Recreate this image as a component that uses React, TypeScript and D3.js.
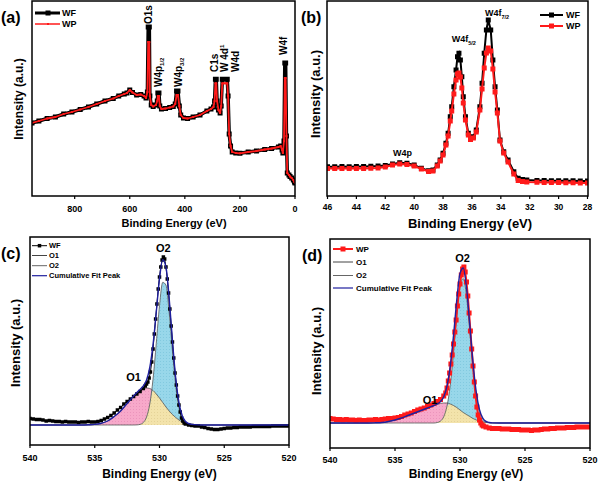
import React from "react";
import * as d3 from "d3";

type P = [number, number];

// ---------- (a) survey spectrum ----------
const surveyWF: P[] = [
  [955, 73], [930, 75], [900, 77.5], [870, 79], [840, 82], [810, 84], [780, 86.5], [750, 89], [720, 92], [690, 95],
  [660, 97.5], [640, 100], [620, 102], [610, 103], [600, 106], [590, 103.5], [575, 101], [560, 101.5], [548, 100],
  [541, 98], [536, 104], [533, 169], [529, 169], [527, 100], [522, 91], [515, 89.5], [505, 91], [500, 95], [498, 103],
  [494, 103], [491, 90], [485, 87], [470, 87.5], [455, 88.5], [442, 89.5], [435, 92], [430, 105], [425, 105], [420, 90],
  [415, 81], [405, 78], [390, 77.5], [370, 79], [345, 81], [320, 85], [305, 87], [296, 89], [292, 95], [289, 116.7],
  [286, 116.7], [283, 95], [278, 86], [272, 83], [268, 90], [264, 116.7], [258, 116.7], [252, 116.7], [246, 116.7],
  [243, 100], [239, 62], [234, 50], [228, 44], [215, 43], [200, 42.7], [170, 44], [140, 45], [110, 46.5], [85, 47.5],
  [60, 49], [52, 50], [47, 46], [44, 43], [40, 55], [37, 133], [34, 133], [31, 60], [28, 23], [22, 21], [18, 19.5],
  [12, 18], [6, 16], [2, 14], [0, 13],
];
const surveyWP: P[] = [
  [955, 73], [930, 75], [900, 77.5], [870, 79], [840, 82], [810, 84], [780, 86.5], [750, 89], [720, 92], [690, 95],
  [660, 97.5], [640, 100], [620, 102], [610, 103], [600, 106], [590, 103.5], [575, 101], [560, 101.5], [548, 100],
  [541, 98], [536, 104], [533, 154], [529, 154], [527, 100], [522, 91], [515, 89.5], [505, 91], [500, 95], [498, 100],
  [494, 100], [491, 90], [485, 87], [470, 87.5], [455, 88.5], [442, 89.5], [435, 92], [430, 101], [425, 101], [420, 90],
  [415, 81], [405, 78], [390, 77.5], [370, 79], [345, 81], [320, 85], [305, 87], [296, 89], [292, 95], [289, 112.7],
  [286, 112.7], [283, 95], [278, 86], [272, 83], [268, 90], [264, 112.7], [258, 112.7], [252, 112.7], [246, 112.7],
  [243, 100], [239, 62], [234, 50], [228, 44], [215, 43], [200, 42.7], [170, 44], [140, 45], [110, 46.5], [85, 47.5],
  [60, 49], [52, 50], [47, 46], [44, 43], [40, 55], [37, 118], [34, 118], [31, 60], [28, 23], [22, 21], [18, 19.5],
  [12, 18], [6, 16], [2, 14], [0, 13],
];

// ---------- (b) W4f region ----------
const w4fBE = [
  46, 45.5, 45, 44.5, 44, 43.5, 43, 42.5, 42, 41.5, 41, 40.5, 40, 39.5, 39, 38.7, 38.4, 38.2, 38, 37.8, 37.65, 37.5,
  37.4, 37.25, 37.1, 37.0, 36.9, 36.8, 36.7, 36.6, 36.45, 36.25, 36.1, 35.9, 35.7, 35.45, 35.3, 35.15, 35.0, 34.87,
  34.7, 34.55, 34.4, 34.24, 34.06, 33.8, 33.5, 33.1, 32.8, 32.5, 32.2, 31.5, 31, 30.5, 30, 29.5, 29, 28.5, 28,
];
const w4fWF = [
  29.3, 29.3, 29.5, 29.3, 29.5, 29.5, 29.8, 30, 30.5, 32, 33.3, 32.7, 31, 27.7, 25.3, 26, 31, 36, 42.7, 52.7, 62.7,
  79.3, 89.3, 109.3, 126, 139.3, 142.7, 136, 119.3, 99.3, 79.3, 62.7, 57.7, 59.3, 66, 89.3, 112.7, 142.7, 166, 176,
  166, 136, 109.3, 86, 56, 44.3, 36, 24.3, 17.7, 16.5, 16, 15.5, 15.5, 15.3, 15.3, 15.2, 15.2, 15, 15,
];
const w4fWP = [
  27.5, 27.5, 27.5, 27.5, 27.5, 27.5, 27.8, 28, 29, 31, 32, 31.5, 30, 27, 24.5, 25, 30, 35, 41, 51, 60, 75, 85, 102,
  116, 122, 123, 119, 108, 93, 76, 61, 56.5, 58, 64, 86, 107, 128, 143, 148, 145, 127, 104, 83, 55, 43, 34, 22, 15.5,
  14.5, 14, 13.8, 13.6, 13.5, 13.5, 13.3, 13.2, 13, 13,
];

// ---------- (c) O1s of WF ----------
const o1sWF: P[] = [
  [540, 26.5], [539.75, 26], [539.5, 25.5], [539.25, 25.5], [539, 25], [538.75, 24], [538.5, 24.5], [538.25, 24],
  [538, 23.5], [537.75, 23.5], [537.5, 23], [537.25, 23.5], [537, 23], [536.75, 23], [536.5, 23], [536.25, 22.5],
  [536, 23], [535.75, 23], [535.5, 23.5], [535.25, 23], [535, 23], [534.75, 23.5], [534.5, 24.5], [534.25, 26],
  [534, 27.5], [533.75, 29.5], [533.5, 32], [533.25, 35], [533, 37.5], [532.75, 41], [532.5, 43.5], [532.25, 46],
  [532, 48.5], [531.75, 51], [531.5, 53.5], [531.25, 56.5], [531.1, 59], [531, 61], [530.9, 63], [530.8, 67],
  [530.7, 73], [530.6, 83], [530.5, 96], [530.4, 111], [530.3, 126], [530.2, 141], [530.1, 156], [530, 168],
  [529.9, 178], [529.8, 185], [529.7, 188], [529.6, 186], [529.5, 178], [529.4, 166], [529.3, 152], [529.2, 136],
  [529.1, 119], [529, 103], [528.9, 87], [528.8, 72], [528.7, 60], [528.6, 49], [528.5, 40], [528.4, 33], [528.3, 27],
  [528.2, 24], [528.1, 22], [528, 21], [527.75, 20], [527.5, 19.5], [527.25, 19], [527, 19], [526.75, 18],
  [526.5, 17.5], [526.25, 16.5], [526, 16], [525.75, 15.5], [525.5, 15.5], [525.25, 16], [525, 16.5], [524.75, 17],
  [524.5, 17], [524.25, 17.5], [524, 17.5], [523.75, 18], [523.5, 18], [523.25, 18], [523, 18], [522.75, 18.5],
  [522.5, 18.5], [522.25, 18.5], [522, 18.5], [521.75, 18.5], [521.5, 18.5], [521.25, 19], [521, 19], [520.75, 19],
  [520.5, 19], [520.25, 19], [520, 19],
];
const fitBEc = [540, 536, 535.5, 535, 534.5, 534, 533.5, 533, 532.5, 532, 531.75, 531.5, 531.25, 531, 530.75, 530.5,
  530.25, 530, 529.75, 529.5, 529.25, 529, 528.75, 528.5, 528.25, 528, 527.75, 527.5, 527, 526.5, 520];
const o1c = [0, 0, 0.2, 0.6, 1.8, 4, 8.5, 14, 21.5, 29, 32.5, 35, 36.5, 37, 36.5, 34.5, 31, 27, 22.5, 18, 14, 10.5,
  7.5, 5, 3, 1.8, 1, 0.5, 0.1, 0, 0];
const o2c = [0, 0, 0, 0, 0, 0, 0, 0, 0, 0, 0.1, 0.6, 2.5, 7.9, 21, 45.8, 81.7, 119.3, 142.7, 139.9, 112.3, 73.9,
  39.8, 17.6, 6.4, 1.9, 0.5, 0.1, 0, 0, 0];
const baselineC = 20;

// ---------- (d) O1s of WP ----------
const o1sWP: P[] = [
  [540, 29.5], [539.75, 29], [539.5, 28.5], [539.25, 28.5], [539, 28], [538.75, 28.5], [538.5, 28], [538.25, 28],
  [538, 27.5], [537.75, 28], [537.5, 27.5], [537.25, 27.5], [537, 28], [536.75, 28], [536.5, 28.5], [536.25, 28],
  [536, 28.5], [535.75, 29], [535.5, 29.5], [535.25, 29.5], [535, 30], [534.75, 30.5], [534.5, 31.5], [534.25, 33],
  [534, 34], [533.75, 35], [533.5, 36.5], [533.25, 38], [533, 39], [532.75, 40], [532.5, 41.5], [532.25, 43],
  [532, 44.5], [531.75, 46.5], [531.5, 48.5], [531.25, 52], [531.1, 55], [531, 60], [530.9, 67], [530.8, 75],
  [530.7, 84], [530.6, 93], [530.5, 104], [530.4, 116], [530.3, 128], [530.2, 142], [530.1, 154], [530, 164],
  [529.9, 173], [529.8, 179], [529.7, 181], [529.6, 176], [529.5, 166], [529.4, 152], [529.3, 135], [529.2, 117],
  [529.1, 99], [529, 82], [528.9, 66], [528.8, 52], [528.7, 41], [528.6, 33], [528.5, 28], [528.4, 25], [528.3, 23],
  [528.2, 22], [528, 21], [527.75, 20], [527.5, 19.5], [527.25, 19.5], [527, 19.5], [526.75, 19], [526.5, 19],
  [526.25, 19], [526, 18.5], [525.75, 18.5], [525.5, 18.5], [525.25, 18], [525, 18], [524.75, 18], [524.5, 17.5],
  [524.25, 18], [524, 18], [523.75, 18.5], [523.5, 19], [523.25, 19], [523, 19.5], [522.75, 19.5], [522.5, 20],
  [522.25, 20], [522, 20], [521.75, 20.5], [521.5, 20.5], [521.25, 20.5], [521, 21], [520.75, 21], [520.5, 21],
  [520.25, 21], [520, 21],
];
const fitBEd = [540, 537, 536.5, 536, 535.5, 535, 534.5, 534, 533.5, 533, 532.5, 532, 531.75, 531.5, 531.25, 531,
  530.75, 530.5, 530.25, 530, 529.75, 529.5, 529.25, 529, 528.75, 528.5, 528.25, 528, 527.75, 527.5, 527, 520];
const o1d = [0, 0, 0.2, 0.5, 1.5, 3, 5, 7.5, 10, 12.5, 15, 17.5, 18.5, 19.5, 20, 20, 19, 17.5, 15.5, 13, 10.5, 8.5,
  6.5, 4.5, 3, 1.8, 1, 0.5, 0.2, 0.1, 0, 0];
const o2d = [0, 0, 0, 0, 0, 0, 0, 0, 0, 0, 0, 0, 0.5, 1.9, 6.3, 16.9, 37.7, 69.8, 107.2, 136.6, 144.5, 126.8, 92.3,
  55.8, 28, 11.6, 4, 1.1, 0.3, 0, 0, 0];
const baselineD = 25;

const ticksSurvey = [800, 600, 400, 200, 0];
const ticksW4f = [46, 44, 42, 40, 38, 36, 34, 32, 30, 28];
const ticksO1s = [540, 535, 530, 525, 520];

const FONT = "'Liberation Sans', Arial, Helvetica, sans-serif";

type Box = { x0: number; x1: number; y0: number; y1: number };
const boxA: Box = { x0: 32, x1: 295, y0: 1, y1: 196 };
const boxB: Box = { x0: 327, x1: 588, y0: 1, y1: 196 };
const boxC: Box = { x0: 30, x1: 289, y0: 237, y1: 445 };
const boxD: Box = { x0: 330, x1: 590, y0: 239, y1: 448 };

function squares(pts: P[], s: number) {
  return pts.map(([x, y]) => `M${x - s / 2},${y - s / 2}h${s}v${s}h${-s}Z`).join("");
}

function Frame({ b }: { b: Box }) {
  return <rect x={b.x0} y={b.y0} width={b.x1 - b.x0} height={b.y1 - b.y0} fill="none" stroke="#000" strokeWidth={1.5} />;
}

function XAxis({ scale, ticks, b, labelY, fs }: any) {
  return (
    <g>
      {ticks.map((t: number) => (
        <g key={t}>
          <line x1={scale(t)} x2={scale(t)} y1={b.y1} y2={b.y1 + 3} stroke="#000" strokeWidth={1.2} />
          <text x={scale(t)} y={labelY} textAnchor="middle" fontSize={fs} fontWeight="bold" fontFamily={FONT}>{t}</text>
        </g>
      ))}
    </g>
  );
}

function YTitle({ x, y, fs }: any) {
  return (
    <text transform={`translate(${x},${y}) rotate(-90)`} textAnchor="middle" dominantBaseline="central" fontSize={fs}
      fontWeight="bold" fontFamily={FONT}>Intensity (a.u.)</text>
  );
}

function VLabel({ x, y, children, fs = 10 }: any) {
  return (
    <text transform={`translate(${x},${y}) rotate(-90)`} textAnchor="start" dominantBaseline="central" fontSize={fs}
      fontWeight="bold" fontFamily={FONT}>{children}</text>
  );
}

function FitPanel({ b, x, y, data, fitBE, o1, o2, base, color, markerSize, lineW, legendName, legend, labels, prefix }: any) {
  const idx = fitBE.map((_: number, i: number) => i);
  const mn = o1.map((v: number, i: number) => Math.min(v, o2[i]));
  const cum = o1.map((v: number, i: number) => base + v + o2[i]);
  const area = (arr: number[]) =>
    d3.area<number>().x((i) => x(fitBE[i])).y0(y(base)).y1((i) => y(base + arr[i])).curve(d3.curveMonotoneX)(idx) || "";
  const line = (arr: number[], off: number) =>
    d3.line<number>().x((i) => x(fitBE[i])).y((i) => y(off + arr[i])).curve(d3.curveMonotoneX)(idx) || "";
  const pts: P[] = data.map(([e, v]: P) => [x(e), y(v)]);
  const dataLine = d3.line()(pts) || "";
  return (
    <g>
      <defs>
        <clipPath id={`${prefix}clip`}><rect x={b.x0} y={b.y0} width={b.x1 - b.x0} height={b.y1 - b.y0} /></clipPath>
      </defs>
      <g clipPath={`url(#${prefix}clip)`}>
        <path d={area(o1)} fill="url(#patPink)" />
        <path d={area(o2)} fill="url(#patBlue)" />
        <path d={area(mn)} fill="url(#patYellow)" />
        <path d={line(o1, base)} fill="none" stroke="#555" strokeWidth={0.8} />
        <path d={line(o2, base)} fill="none" stroke="#555" strokeWidth={0.8} />
        <path d={dataLine} fill="none" stroke={color} strokeWidth={lineW} />
        <path d={squares(pts, markerSize)} fill={color} />
        <path d={line(cum, 0)} fill="none" stroke="#1f1f9e" strokeWidth={1.4} />
      </g>
      <Frame b={b} />
      {/* legend */}
      <g fontFamily={FONT} fontWeight="bold" fontSize={legend.fs}>
        <line x1={legend.x0} x2={legend.x1} y1={legend.ys[0]} y2={legend.ys[0]} stroke={color} strokeWidth={lineW} />
        <rect x={(legend.x0 + legend.x1) / 2 - markerSize / 2} y={legend.ys[0] - markerSize / 2} width={markerSize} height={markerSize} fill={color} />
        <text x={legend.tx} y={legend.ys[0]} dominantBaseline="central">{legendName}</text>
        <line x1={legend.x0} x2={legend.x1} y1={legend.ys[1]} y2={legend.ys[1]} stroke="#444" strokeWidth={1} />
        <text x={legend.tx} y={legend.ys[1]} dominantBaseline="central">O1</text>
        <line x1={legend.x0} x2={legend.x1} y1={legend.ys[2]} y2={legend.ys[2]} stroke="#666" strokeWidth={1} />
        <text x={legend.tx} y={legend.ys[2]} dominantBaseline="central">O2</text>
        <line x1={legend.x0} x2={legend.x1} y1={legend.ys[3]} y2={legend.ys[3]} stroke="#1f1f9e" strokeWidth={1.2} />
        <text x={legend.tx} y={legend.ys[3]} dominantBaseline="central">Cumulative Fit Peak</text>
      </g>
      <g fontFamily={FONT} fontWeight="bold" fontSize={11} textAnchor="middle">
        <text x={x(labels.o2[0])} y={y(labels.o2[1])}>O2</text>
        <text x={x(labels.o1[0])} y={y(labels.o1[1])}>O1</text>
      </g>
    </g>
  );
}

export default function App() {
  const xA = d3.scaleLinear().domain([955, 0]).range([boxA.x0, boxA.x1]);
  const yA = d3.scaleLinear().domain([0, 195]).range([boxA.y1, boxA.y0]);
  const xB = d3.scaleLinear().domain([46, 28]).range([327.5, 587.5]);
  const yB = d3.scaleLinear().domain([0, 195]).range([boxB.y1, boxB.y0]);
  const xC = d3.scaleLinear().domain([540, 520]).range([boxC.x0, boxC.x1]);
  const yC = d3.scaleLinear().domain([0, 208]).range([boxC.y1, boxC.y0]);
  const xD = d3.scaleLinear().domain([540, 520]).range([boxD.x0, boxD.x1]);
  const yD = d3.scaleLinear().domain([0, 209]).range([boxD.y1, boxD.y0]);

  const aWF: P[] = surveyWF.map(([e, v]) => [xA(e), yA(v)]);
  const aWP: P[] = surveyWP.map(([e, v]) => [xA(e), yA(v)]);
  const bWF: P[] = w4fBE.map((e, i) => [xB(e), yB(w4fWF[i])]);
  const bWP: P[] = w4fBE.map((e, i) => [xB(e), yB(w4fWP[i])]);
  const lin = d3.line();

  return (
    <svg width={600} height={486} style={{ position: "absolute", left: 0, top: 0, background: "#fff" }}>
      <defs>
        <pattern id="patPink" width={3} height={3} patternUnits="userSpaceOnUse">
          <rect width={3} height={3} fill="#f7a9ca" />
          <circle cx={1.5} cy={1.5} r={0.45} fill="#e07fae" />
        </pattern>
        <pattern id="patBlue" width={3} height={3} patternUnits="userSpaceOnUse">
          <rect width={3} height={3} fill="#98d7ea" />
          <circle cx={1.5} cy={1.5} r={0.45} fill="#6bbbd4" />
        </pattern>
        <pattern id="patYellow" width={3} height={3} patternUnits="userSpaceOnUse">
          <rect width={3} height={3} fill="#f3e3ab" />
          <circle cx={1.5} cy={1.5} r={0.45} fill="#d6c384" />
        </pattern>
        <clipPath id="clipA"><rect x={boxA.x0} y={boxA.y0 - 3} width={boxA.x1 - boxA.x0} height={boxA.y1 - boxA.y0 + 3} /></clipPath>
        <clipPath id="clipB"><rect x={boxB.x0} y={boxB.y0} width={boxB.x1 - boxB.x0} height={boxB.y1 - boxB.y0} /></clipPath>
      </defs>

      {/* ---------- panel (a) ---------- */}
      <g clipPath="url(#clipA)">
        <path d={lin(aWF) || ""} fill="none" stroke="#000" strokeWidth={3.5} strokeLinejoin="round" />
        <path d={squares(aWF, 5)} fill="#000" />
        <path d={lin(aWP) || ""} fill="none" stroke="#ff1a1a" strokeWidth={1.8} strokeLinejoin="round" />
        <path d={squares(aWP, 2)} fill="#ff1a1a" />
      </g>
      <Frame b={boxA} />
      <XAxis scale={xA} ticks={ticksSurvey} b={boxA} labelY={212} fs={9} />
      <text x={174} y={227} textAnchor="middle" fontSize={11} fontWeight="bold" fontFamily={FONT}>Binding Energy (eV)</text>
      <YTitle x={19} y={99} fs={12} />
      <text x={1} y={23} fontSize={16} fontWeight="bold" fontFamily={FONT}>(a)</text>
      <g fontFamily={FONT} fontWeight="bold" fontSize={9}>
        <line x1={35} x2={60} y1={13} y2={13} stroke="#000" strokeWidth={3} />
        <rect x={45.5} y={10.5} width={5} height={5} fill="#000" />
        <text x={62} y={13} dominantBaseline="central">WF</text>
        <line x1={35} x2={60} y1={24} y2={24} stroke="#ff1a1a" strokeWidth={1.5} />
        <rect x={47} y={23} width={2} height={2} fill="#ff1a1a" />
        <text x={62} y={24} dominantBaseline="central">WP</text>
      </g>
      <VLabel x={xA(531)} y={yA(172)}>O1s</VLabel>
      <VLabel x={xA(494.5)} y={yA(109)}>W4p<tspan fontSize={6} baselineShift="sub">1/2</tspan></VLabel>
      <VLabel x={xA(422)} y={yA(109)}>W4p<tspan fontSize={6} baselineShift="sub">3/2</tspan></VLabel>
      <VLabel x={xA(291)} y={yA(124)}>C1s</VLabel>
      <VLabel x={xA(254.5)} y={yA(124)}>W 4d<tspan fontSize={6} baselineShift="super">1</tspan></VLabel>
      <VLabel x={xA(214.5)} y={yA(124)}>W4d</VLabel>
      <VLabel x={xA(40)} y={yA(141)}>W4f</VLabel>

      {/* ---------- panel (b) ---------- */}
      <g clipPath="url(#clipB)">
        <path d={lin(bWF) || ""} fill="none" stroke="#000" strokeWidth={2} />
        <path d={squares(bWF, 5)} fill="#000" />
        <path d={lin(bWP) || ""} fill="none" stroke="#ff1a1a" strokeWidth={2} />
        <path d={squares(bWP, 5)} fill="#ff1a1a" />
      </g>
      <Frame b={boxB} />
      <XAxis scale={xB} ticks={ticksW4f} b={boxB} labelY={210} fs={8.5} />
      <text x={470} y={228} textAnchor="middle" fontSize={13} fontWeight="bold" fontFamily={FONT}>Binding Energy (eV)</text>
      <YTitle x={315} y={94} fs={13} />
      <text x={301} y={23} fontSize={16} fontWeight="bold" fontFamily={FONT}>(b)</text>
      <g fontFamily={FONT} fontWeight="bold" fontSize={9}>
        <line x1={540} x2={563} y1={15} y2={15} stroke="#000" strokeWidth={2} />
        <rect x={549} y={12.5} width={5} height={5} fill="#000" />
        <text x={566} y={15} dominantBaseline="central">WF</text>
        <line x1={540} x2={563} y1={26} y2={26} stroke="#ff1a1a" strokeWidth={2} />
        <rect x={549} y={23.5} width={5} height={5} fill="#ff1a1a" />
        <text x={566} y={26} dominantBaseline="central">WP</text>
      </g>
      <g fontFamily={FONT} fontWeight="bold" fontSize={9}>
        <text x={xB(40.8)} y={yB(40)} textAnchor="middle">W4p</text>
        <text x={xB(37.4)} y={yB(154)}>W4f<tspan fontSize={5.5} baselineShift="sub">5/2</tspan></text>
        <text x={xB(35.1)} y={yB(180)}>W4f<tspan fontSize={5.5} baselineShift="sub">7/2</tspan></text>
      </g>

      {/* ---------- panel (c) ---------- */}
      <FitPanel b={boxC} x={xC} y={yC} data={o1sWF} fitBE={fitBEc} o1={o1c} o2={o2c} base={baselineC} color="#000"
        markerSize={3.5} lineW={1} legendName="WF" prefix="c"
        legend={{ x0: 32, x1: 47, tx: 49, ys: [245.7, 255.5, 265.7, 275.7], fs: 7.5 }}
        labels={{ o2: [529.7, 193], o1: [532, 64] }} />
      <XAxis scale={xC} ticks={ticksO1s} b={boxC} labelY={460.5} fs={9} />
      <text x={159.5} y={478} textAnchor="middle" fontSize={12} fontWeight="bold" fontFamily={FONT}>Binding Energy (eV)</text>
      <YTitle x={15} y={343} fs={13} />
      <text x={1} y={259} fontSize={16} fontWeight="bold" fontFamily={FONT}>(c)</text>

      {/* ---------- panel (d) ---------- */}
      <FitPanel b={boxD} x={xD} y={yD} data={o1sWP} fitBE={fitBEd} o1={o1d} o2={o2d} base={baselineD} color="#ff1a1a"
        markerSize={5} lineW={2} legendName="WP" prefix="d"
        legend={{ x0: 333, x1: 353, tx: 356, ys: [249, 262, 275.5, 288], fs: 8 }}
        labels={{ o2: [529.8, 186], o1: [532.3, 44] }} />
      <XAxis scale={xD} ticks={ticksO1s} b={boxD} labelY={463} fs={9} />
      <text x={466} y={478} textAnchor="middle" fontSize={12} fontWeight="bold" fontFamily={FONT}>Binding Energy (eV)</text>
      <YTitle x={316} y={351} fs={13} />
      <text x={302} y={261} fontSize={16} fontWeight="bold" fontFamily={FONT}>(d)</text>
    </svg>
  );
}
